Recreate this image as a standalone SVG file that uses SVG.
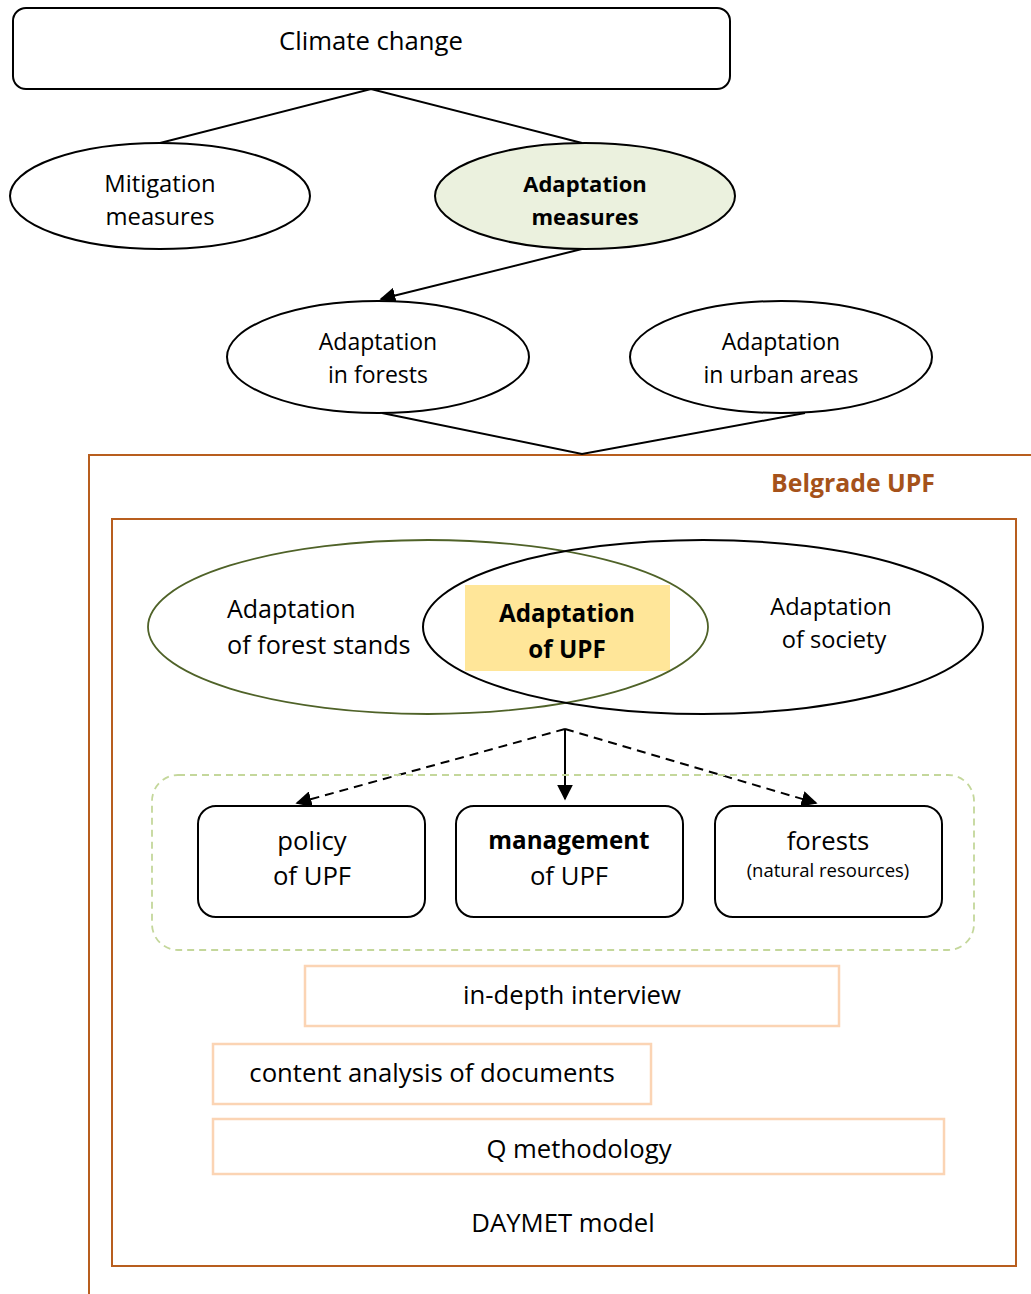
<svg xmlns="http://www.w3.org/2000/svg" width="1031" height="1294" viewBox="0 0 1031 1294">
  <style>
    text { font-family: "Open Sans", "Noto Sans", "DejaVu Sans", sans-serif; fill: #000; text-anchor: middle; }
    .t { font-size: 23px; }
    .l { font-size: 25.7px; }
    .b { font-size: 22px; font-weight: bold; }
    .sm { font-size: 18.5px; }
    .node { fill: #fff; stroke: #000; stroke-width: 2; }
    .edge { fill: none; stroke: #000; stroke-width: 2; }
    .dash { stroke-dasharray: 9 6; }
    .frame { fill: none; stroke: #b85e1e; stroke-width: 2; }
    .method { fill: #fff; stroke: #fbd4b4; stroke-width: 2.5; }
  </style>
  <defs>
    <marker id="arrowL" viewBox="0 0 10 10" refX="9" refY="5" markerWidth="16" markerHeight="16" markerUnits="userSpaceOnUse" orient="auto">
      <path d="M0,0 L10,5 L0,10 z" fill="#000"/>
    </marker>
  </defs>

  <rect width="1031" height="1294" fill="#fff"/>

  <!-- frames around the Belgrade UPF case study -->
  <g id="frames">
    <path class="frame" d="M1040,455 H89 V1300"/>
    <rect class="frame" x="112" y="519" width="904" height="747" stroke-width="1.8"/>
    <text x="853" y="492" style="font-size:24.8px;font-weight:bold;fill:#a5521a">Belgrade UPF</text>
  </g>

  <!-- connectors -->
  <g id="connectors">
    <polyline class="edge" points="160,143 371,89 582,143"/>
    <line class="edge" x1="582" y1="249" x2="381" y2="299" marker-end="url(#arrowL)"/>
    <polyline class="edge" points="382,413 582,454 805,413"/>
    <line class="edge dash" x1="565" y1="729" x2="297" y2="803" marker-end="url(#arrowL)"/>
    <line class="edge" x1="565" y1="729" x2="565" y2="799" marker-end="url(#arrowL)"/>
    <line class="edge dash" x1="565" y1="729" x2="816" y2="803" marker-end="url(#arrowL)"/>
  </g>

  <g id="climate-change">
    <rect class="node" x="13" y="8" width="717" height="81" rx="13"/>
    <text class="l" x="371" y="50">Climate change</text>
  </g>

  <g id="mitigation">
    <ellipse class="node" cx="160" cy="196" rx="150" ry="53"/>
    <text class="t" x="160" y="192" style="font-size:23.8px">Mitigation</text>
    <text class="t" x="160" y="225" style="font-size:23.8px">measures</text>
  </g>

  <g id="adaptation-measures">
    <ellipse class="node" cx="585" cy="196" rx="150" ry="53" style="fill:#ebf1de"/>
    <text class="b" x="585" y="192">Adaptation</text>
    <text class="b" x="585" y="225">measures</text>
  </g>

  <g id="adaptation-forests">
    <ellipse class="node" cx="378" cy="357" rx="151" ry="56"/>
    <text class="t" x="378" y="350">Adaptation</text>
    <text class="t" x="378" y="383">in forests</text>
  </g>

  <g id="adaptation-urban">
    <ellipse class="node" cx="781" cy="357" rx="151" ry="56"/>
    <text class="t" x="781" y="350">Adaptation</text>
    <text class="t" x="781" y="383">in urban areas</text>
  </g>

  <!-- overlapping scopes of adaptation -->
  <g id="adaptation-upf">
    <rect x="465" y="585" width="205" height="86" fill="#ffe699"/>
    <ellipse cx="428" cy="627" rx="280" ry="87" fill="none" stroke="#4f6228" stroke-width="1.8"/>
    <ellipse cx="703" cy="627" rx="280" ry="87" fill="none" stroke="#000" stroke-width="2"/>
    <text x="227" y="618" style="text-anchor:start;font-size:25px">Adaptation</text>
    <text x="227" y="654" style="text-anchor:start;font-size:25.2px">of forest stands</text>
    <text x="567" y="622" style="font-size:24.2px;font-weight:bold">Adaptation</text>
    <text x="567" y="658" style="font-size:24.2px;font-weight:bold">of UPF</text>
    <text x="831" y="615" style="font-size:23.6px">Adaptation</text>
    <text x="834" y="648" style="font-size:23.6px">of society</text>
  </g>

  <g id="upf-aspects">
    <rect x="152" y="775" width="822" height="175" rx="26" fill="none" stroke="#c4d79b" stroke-width="1.8" stroke-dasharray="7 5"/>
  </g>

  <g id="policy">
    <rect class="node" x="198" y="806" width="227" height="111" rx="18"/>
    <text class="l" x="312" y="850">policy</text>
    <text class="l" x="312" y="885">of UPF</text>
  </g>

  <g id="management">
    <rect class="node" x="456" y="806" width="227" height="111" rx="18"/>
    <text x="569" y="849" style="font-size:24.2px;font-weight:bold">management</text>
    <text class="l" x="569" y="885">of UPF</text>
  </g>

  <g id="forests">
    <rect class="node" x="715" y="806" width="227" height="111" rx="18"/>
    <text class="l" x="828" y="850">forests</text>
    <text class="sm" x="828" y="877">(natural resources)</text>
  </g>

  <!-- research methods -->
  <g id="in-depth-interview">
    <rect class="method" x="305" y="966" width="534" height="60"/>
    <text class="l" x="572" y="1004">in-depth interview</text>
  </g>

  <g id="content-analysis">
    <rect class="method" x="213" y="1044" width="438" height="60"/>
    <text class="l" x="432" y="1082">content analysis of documents</text>
  </g>

  <g id="q-methodology">
    <rect class="method" x="213" y="1119" width="731" height="55"/>
    <text class="l" x="579" y="1158">Q methodology</text>
  </g>

  <g id="daymet">
    <text class="l" x="563" y="1232">DAYMET model</text>
  </g>
</svg>
